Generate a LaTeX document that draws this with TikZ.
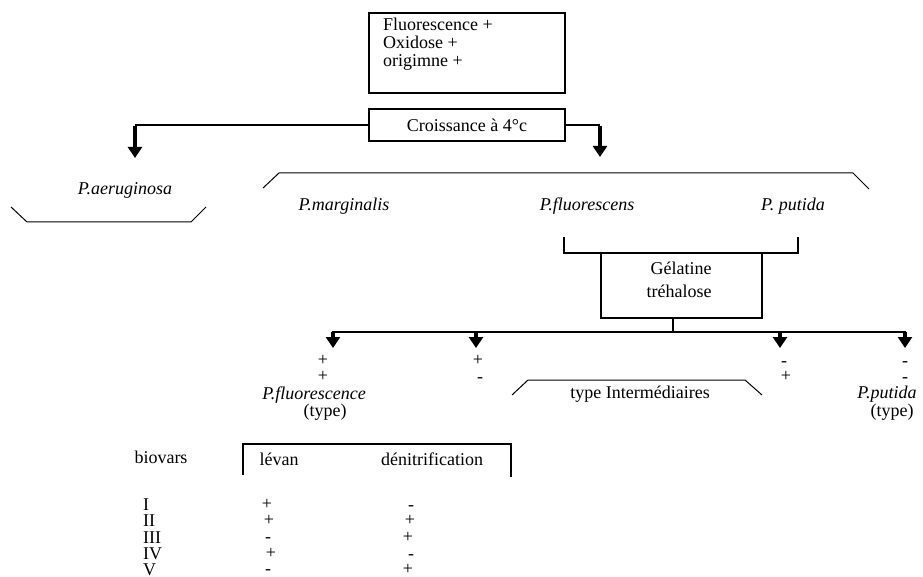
\documentclass[tikz,border=0pt]{standalone}
\usepackage{fontspec}
\setmainfont{Liberation Serif}
\usetikzlibrary{arrows.meta}
\begin{document}
\begin{tikzpicture}[x=1pt,y=-1pt,
  txt/.style={inner sep=0pt, font=\fontsize{18}{20}\selectfont, anchor=base},
  itxt/.style={inner sep=0pt, font=\fontsize{18}{20}\selectfont\itshape, anchor=base},
  box/.style={draw, line width=1.4pt, inner sep=0pt},
  conn/.style={line width=1.4pt},
  brk/.style={line width=1pt},
  arr/.style={line width=4pt, -{Triangle[width=14pt,length=11pt]}}]
\useasboundingbox (0,0) rectangle (923,577);

% top box
\node[box, minimum width=196pt, minimum height=80pt] (topbox) at (467,53) {};
\node[txt, anchor=base west] (t1) at (383,31) {Fluorescence +};
\node[txt, anchor=base west] (t2) at (383,49) {Oxidose +};
\node[txt, anchor=base west] (t3) at (383,67) {origimne +};

% croissance box
\node[box, minimum width=196pt, minimum height=32pt, font=\fontsize{18}{20}\selectfont] (crois) at (467,125) {Croissance à 4°c};
\coordinate (lc) at (135,125);
\coordinate (lt) at (135,158);
\coordinate (rc) at (600,125);
\coordinate (rt) at (600,157);
\draw[conn] (crois.west) -- (lc);
\draw[arr] ([yshift=-0.7pt]lc) -- (lt);
\draw[conn] (crois.east) -- (rc);
\draw[arr] ([yshift=-0.7pt]rc) -- (rt);

% P. aeruginosa
\node[itxt] (aer) at (125,195) {P.aeruginosa};
\draw[brk] (11,207) -- (27,222) -- (191,222) -- (206,207);

% big bracket
\draw[brk] (263,188) -- (279,173) -- (853,173) -- (869,189);
\node[itxt] (marg) at (344,211) {P.marginalis};
\node[itxt] (fluo) at (587,211) {P.fluorescens};
\node[itxt] (put) at (793,211) {P. putida};

% gelatine box
\node[box, minimum width=161pt, minimum height=65pt] (gel) at (681.5,285.5) {};
\node[txt] (g1) at (681,275) {Gélatine};
\node[txt] (g2) at (679,297) {tréhalose};
\coordinate (bl) at (564,237);
\coordinate (br) at (798,237);
\draw[conn] (bl) -- (564,253) -- (798,253) -- (br);
\coordinate (gs) at (673,332);
\draw[conn] (gel.south -| gs) -- (gs);

% branch line and arrows
\coordinate (h1) at (333,332);
\coordinate (h2) at (476,332);
\coordinate (h3) at (780,332);
\coordinate (h4) at (905,332);
\draw[conn] ([xshift=-0.7pt]h1) -- ([xshift=0.7pt]h4);
\coordinate (a1) at (333,348);
\coordinate (a2) at (476,348);
\coordinate (a3) at (780,348);
\coordinate (a4) at (905,348);
\draw[arr] (h1) -- (a1);
\draw[arr] (h2) -- (a2);
\draw[arr] (h3) -- (a3);
\draw[arr] (h4) -- (a4);

% signs under arrows
\node[txt] (s11) at (323,365.5) {+};
\node[txt] (s12) at (323,381.5) {+};
\node[txt] (s21) at (478,365.5) {+};
\node[txt] (s22) at (480,382) {-};
\node[txt] (s31) at (784,366) {-};
\node[txt] (s32) at (786,381.5) {+};
\node[txt] (s41) at (905,366) {-};
\node[txt] (s42) at (905,382) {-};

\node[itxt] (pft) at (314,399) {P.fluorescence};
\node[txt] (pft2) at (325,416) {(type)};
\node[itxt] (ppt) at (887,398) {P.putida};
\node[txt] (ppt2) at (892,416) {(type)};

% intermediaires
\draw[brk] (512,395) -- (528,380) -- (745,380) -- (762,395);
\node[txt] (inter) at (640,398) {type Intermédiaires};

% table
\node[txt] (biov) at (161,463) {biovars};
\draw[conn] (243,475) -- (243,444) -- (511,444) -- (511,477);
\node[txt] (lev) at (279,465) {lévan};
\node[txt] (deni) at (432,465) {dénitrification};

\node[txt, anchor=base west] (r1) at (143,510) {I};
\node[txt, anchor=base west] (r2) at (143,526) {II};
\node[txt, anchor=base west] (r3) at (143,543) {III};
\node[txt, anchor=base west] (r4) at (143,559) {IV};
\node[txt, anchor=base west] (r5) at (143,575) {V};

\node[txt] (l1) at (267,509.5) {+};
\node[txt] (l2) at (269,525.5) {+};
\node[txt] (l3) at (268,542.5) {-};
\node[txt] (l4) at (271,558.5) {+};
\node[txt] (l5) at (268,574.5) {-};

\node[txt] (d1) at (411,510) {-};
\node[txt] (d2) at (410,525.5) {+};
\node[txt] (d3) at (408,542.5) {+};
\node[txt] (d4) at (411,559) {-};
\node[txt] (d5) at (408,574.5) {+};
\end{tikzpicture}
\end{document}
